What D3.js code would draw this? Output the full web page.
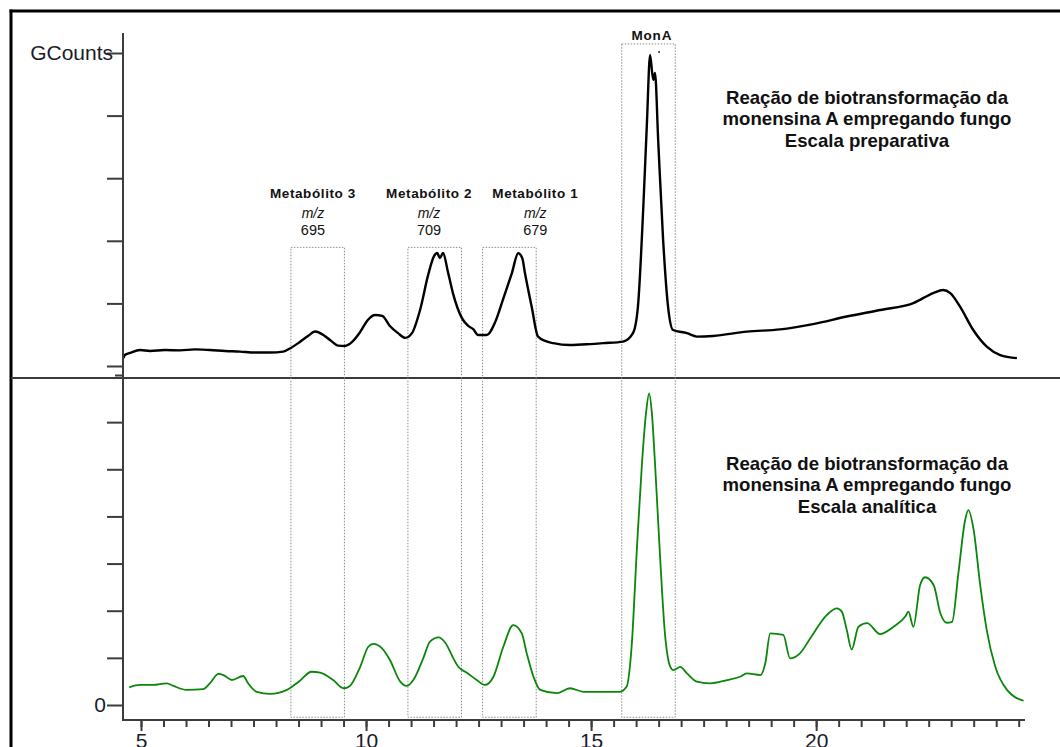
<!DOCTYPE html>
<html>
<head>
<meta charset="utf-8">
<script src="https://cdn.jsdelivr.net/npm/d3@7"></script>
<style>
  body { margin: 0; background: #fff; }
  svg { display: block; font-family: "Liberation Sans", Arial, sans-serif; }
</style>
</head>
<body>
<div id="chart"></div>
<script>
// retention time (min) and relative intensity
var prepTime = [4.61, 4.64, 4.76, 4.98, 5.20, 5.53, 5.87, 6.20, 6.53, 6.87, 7.20, 7.53, 7.87, 8.16, 8.31, 8.53, 8.71, 8.87, 9.02, 9.20,
  9.38, 9.53, 9.69, 9.87, 10.04, 10.20, 10.36, 10.53, 10.71, 10.87, 11.02, 11.20, 11.38, 11.51, 11.58, 11.64, 11.71, 11.82, 11.93, 12.13,
  12.27, 12.38, 12.49, 12.68, 12.87, 13.04, 13.24, 13.38, 13.47, 13.53, 13.68, 13.82, 13.98, 14.16, 14.53, 14.98, 15.27, 15.71, 15.93, 16.04,
  16.16, 16.24, 16.31, 16.38, 16.42, 16.49, 16.60, 16.71, 16.82, 17.13, 17.35, 17.71, 18.46, 19.20, 19.93, 20.68, 21.42, 22.16, 22.60, 22.82,
  22.98, 23.20, 23.49, 23.79, 24.09, 24.46];
var prepValue = [2.5, 3.5, 4.2, 5.1, 4.8, 5.1, 5.0, 5.3, 5.1, 4.8, 4.6, 4.3, 4.3, 4.6, 5.6, 7.7, 9.6, 11.0, 10.2, 8.3,
  6.5, 6.4, 7.7, 10.9, 14.7, 16.3, 16.0, 12.8, 10.5, 9.0, 10.5, 17.9, 29.1, 35.1, 36.1, 34.5, 36.1, 30.0, 23.3, 15.3,
  12.8, 11.8, 9.9, 9.9, 14.1, 21.1, 29.7, 36.0, 34.5, 29.7, 18.9, 9.4, 8.0, 7.3, 6.7, 7.0, 7.3, 7.8, 10.5, 18.9,
  50.9, 77.6, 99.4, 91.4, 93.6, 72.2, 40.3, 18.9, 11.5, 10.5, 9.4, 9.6, 11.0, 11.7, 13.4, 15.8, 17.9, 20.1, 23.3, 24.3,
  23.3, 18.9, 11.5, 6.2, 3.5, 2.5];

var anaTime = [4.74, 4.98, 5.27, 5.57, 5.72, 6.02, 6.38, 6.53, 6.72, 6.83, 7.02, 7.27, 7.38, 7.57, 7.87, 8.24, 8.53, 8.79, 8.98, 9.27,
  9.50, 9.64, 9.87, 10.05, 10.16, 10.35, 10.53, 10.76, 10.90, 11.05, 11.27, 11.42, 11.61, 11.76, 11.94, 12.05, 12.24, 12.46, 12.64, 12.83,
  13.05, 13.27, 13.46, 13.57, 13.72, 13.87, 14.24, 14.53, 14.83, 15.20, 15.64, 15.79, 15.90, 16.02, 16.13, 16.22, 16.29, 16.35, 16.42, 16.52,
  16.64, 16.76, 16.83, 16.98, 17.13, 17.35, 17.64, 18.02, 18.31, 18.46, 18.76, 18.87, 18.98, 19.27, 19.42, 19.64, 19.87, 20.24, 20.46, 20.57,
  20.68, 20.79, 20.94, 21.13, 21.42, 21.72, 21.98, 22.05, 22.16, 22.31, 22.42, 22.61, 22.76, 22.90, 23.02, 23.16, 23.31, 23.38, 23.50, 23.64,
  23.79, 23.98, 24.24, 24.61];
var anaValue = [7.5, 8.5, 8.5, 9.2, 8.1, 6.4, 6.7, 9.2, 13.2, 12.7, 10.6, 12.3, 9.2, 5.6, 4.7, 6.4, 10.3, 14.1, 13.7, 10.6,
  7.1, 8.1, 16.2, 24.7, 25.9, 24.1, 19.1, 9.9, 8.1, 10.6, 19.8, 26.9, 28.7, 26.4, 19.8, 16.2, 13.7, 10.6, 8.5, 12.0,
  24.7, 33.9, 30.4, 21.9, 12.0, 6.4, 5.0, 7.1, 5.6, 5.6, 5.6, 7.8, 24.7, 67.2, 102.5, 123.8, 132.2, 123.8, 102.5, 67.2,
  30.4, 16.2, 14.8, 16.2, 13.4, 9.9, 9.2, 10.6, 12.0, 13.4, 12.7, 17.7, 30.4, 29.7, 19.8, 21.9, 28.3, 38.2, 41.0, 39.6,
  31.8, 23.6, 33.2, 34.7, 30.1, 33.2, 37.5, 39.6, 33.2, 50.9, 54.2, 50.9, 38.9, 34.9, 35.3, 55.9, 78.5, 82.7, 74.2, 51.6,
  31.8, 16.2, 6.4, 1.8];

// highlighted windows
var peakNames = ["Metabólito 3", "Metabólito 2", "Metabólito 1", "MonA"];
var peakMz = ["695", "709", "679", ""];
var boxStart = [8.33, 10.93, 12.59, 15.68];
var boxEnd = [9.52, 12.12, 13.78, 16.87];
var boxTop = [37.9, 37.9, 37.9, 102.9];
var labelAt = [8.82, 11.40, 13.76, 16.35];

var majorTicks = [5, 10, 15, 20];
var minorTicks = d3.range(5, 24.51, 0.5);
var prepTicks = [0, 20, 40, 60, 80, 100];
var anaTicks = [0, 20, 40, 60, 80, 100, 120, 140];

var titleTop = ["Reação de biotransformação da", "monensina A empregando fungo", "Escala preparativa"];
var titleBottom = ["Reação de biotransformação da", "monensina A empregando fungo", "Escala analítica"];

var W = 1060, H = 747;

var svg = d3.select("#chart")
  .append("svg")
    .attr("width", W)
    .attr("height", H);

var x = d3.scaleLinear().domain([4.6, 24.64]).range([123, 1025]);
var yTop = d3.scaleLinear().domain([0, 100]).range([366, 53]);
var yBot = d3.scaleLinear().domain([0, 140]).range([705, 375]);

// outer frame (cut at the right and bottom)
svg.append("line").attr("x1", 9.5).attr("x2", W).attr("y1", 11).attr("y2", 11)
  .attr("stroke", "#000").attr("stroke-width", 3);
svg.append("line").attr("x1", 11).attr("x2", 11).attr("y1", 9.5).attr("y2", H)
  .attr("stroke", "#000").attr("stroke-width", 3);

// panel divider
svg.append("line").attr("x1", 11).attr("x2", W).attr("y1", 378).attr("y2", 378)
  .attr("stroke", "#3a3a3a").attr("stroke-width", 2);

// dashed windows
boxStart.forEach(function(s, i) {
  svg.append("rect")
    .attr("x", x(s))
    .attr("y", yTop(boxTop[i]))
    .attr("width", x(boxEnd[i]) - x(s))
    .attr("height", yBot(-5.2) - yTop(boxTop[i]))
    .attr("fill", "none")
    .attr("stroke", "#8c8c8c")
    .attr("stroke-width", 1)
    .attr("stroke-dasharray", "1.5,1.5");
});

// labels over the windows
peakNames.forEach(function(name, i) {
  var top = yTop(boxTop[i]);
  var g = svg.append("g")
    .attr("text-anchor", "middle")
    .attr("fill", "#111");
  if (peakMz[i]) {
    g.append("text")
      .attr("x", x(labelAt[i])).attr("y", top - 49)
      .style("font-size", "13.5px").style("font-weight", "bold")
      .style("letter-spacing", "0.6px")
      .text(name);
    g.append("text")
      .attr("x", x(labelAt[i])).attr("y", top - 29)
      .style("font-size", "14px").style("font-style", "italic")
      .text("m/z");
    g.append("text")
      .attr("x", x(labelAt[i])).attr("y", top - 12)
      .style("font-size", "14.5px")
      .text(peakMz[i]);
  } else {
    g.append("text")
      .attr("x", x(labelAt[i])).attr("y", top - 4)
      .style("font-size", "13.5px").style("font-weight", "bold")
      .style("letter-spacing", "0.8px")
      .text(name);
  }
});

// traces
var prepLine = d3.line()
  .curve(d3.curveMonotoneX)
  .x(function(d, i) { return x(prepTime[i]); })
  .y(function(d) { return yTop(d); });

var anaLine = d3.line()
  .curve(d3.curveMonotoneX)
  .x(function(d, i) { return x(anaTime[i]); })
  .y(function(d) { return yBot(d); });

svg.append("path")
  .datum(anaValue)
    .attr("fill", "none")
    .attr("stroke", "#0b860b")
    .attr("stroke-width", 1.8)
    .attr("stroke-linejoin", "round")
    .attr("d", anaLine);

svg.append("path")
  .datum(prepValue)
    .attr("fill", "none")
    .attr("stroke", "#000")
    .attr("stroke-width", 2.4)
    .attr("stroke-linejoin", "round")
    .attr("d", prepLine);

// stray point next to the MonA apex
svg.append("circle")
  .attr("cx", x(16.51)).attr("cy", yTop(100.3)).attr("r", 1)
  .attr("fill", "#222");

// y axes
var axisColor = "#3c3c3c";

var topAxis = svg.append("g")
  .attr("transform", "translate(123,0)")
  .call(d3.axisLeft(yTop).tickValues(prepTicks).tickSize(16).tickSizeOuter(0).tickPadding(-6)
    .tickFormat(function(d) { return d === 100 ? "GCounts" : ""; }));

var botAxis = svg.append("g")
  .attr("transform", "translate(123,0)")
  .call(d3.axisLeft(yBot).tickValues(anaTicks).tickSize(16).tickSizeOuter(0).tickPadding(1)
    .tickFormat(function(d) { return d === 0 ? "0" : ""; }));

botAxis.selectAll(".tick").filter(function(d) { return d === 140; })
  .select("line").attr("x2", -8);

[topAxis, botAxis].forEach(function(a) {
  a.select(".domain").remove();
  a.selectAll(".tick line").attr("stroke", axisColor).attr("stroke-width", 2);
  a.selectAll(".tick text")
    .style("font-family", "'Liberation Sans', Arial, sans-serif")
    .style("font-size", "21px")
    .attr("fill", "#1b1b2a");
});

svg.append("line")
  .attr("x1", 123).attr("x2", 123).attr("y1", 33).attr("y2", 721)
  .attr("stroke", axisColor).attr("stroke-width", 2);

// x axis
var xMinor = svg.append("g")
  .attr("transform", "translate(0,720)")
  .call(d3.axisBottom(x).tickValues(minorTicks).tickSize(7).tickSizeOuter(0).tickFormat(""));
xMinor.select(".domain").remove();

var xMajor = svg.append("g")
  .attr("transform", "translate(0,720)")
  .call(d3.axisBottom(x).tickValues(majorTicks).tickSize(11).tickSizeOuter(0).tickPadding(2)
    .tickFormat(d3.format("d")));
xMajor.select(".domain").remove();

[xMinor, xMajor].forEach(function(a) {
  a.selectAll(".tick line").attr("stroke", axisColor).attr("stroke-width", 2);
});
xMajor.selectAll(".tick text")
  .style("font-family", "'Liberation Sans', Arial, sans-serif")
  .style("font-size", "21px")
  .attr("fill", "#1b1b2a");

svg.append("line")
  .attr("x1", 122).attr("x2", 1025).attr("y1", 720).attr("y2", 720)
  .attr("stroke", axisColor).attr("stroke-width", 2);

// panel titles
function addTitle(lines, baseY) {
  svg.append("g")
    .selectAll("text")
    .data(lines)
    .enter()
    .append("text")
      .attr("x", 867)
      .attr("y", function(d, i) { return baseY + i * 21.7; })
      .attr("text-anchor", "middle")
      .attr("fill", "#111")
      .style("font-size", "18.6px")
      .style("font-weight", "bold")
      .text(function(d) { return d; });
}
addTitle(titleTop, 103.5);
addTitle(titleBottom, 469.5);
</script>
</body>
</html>
